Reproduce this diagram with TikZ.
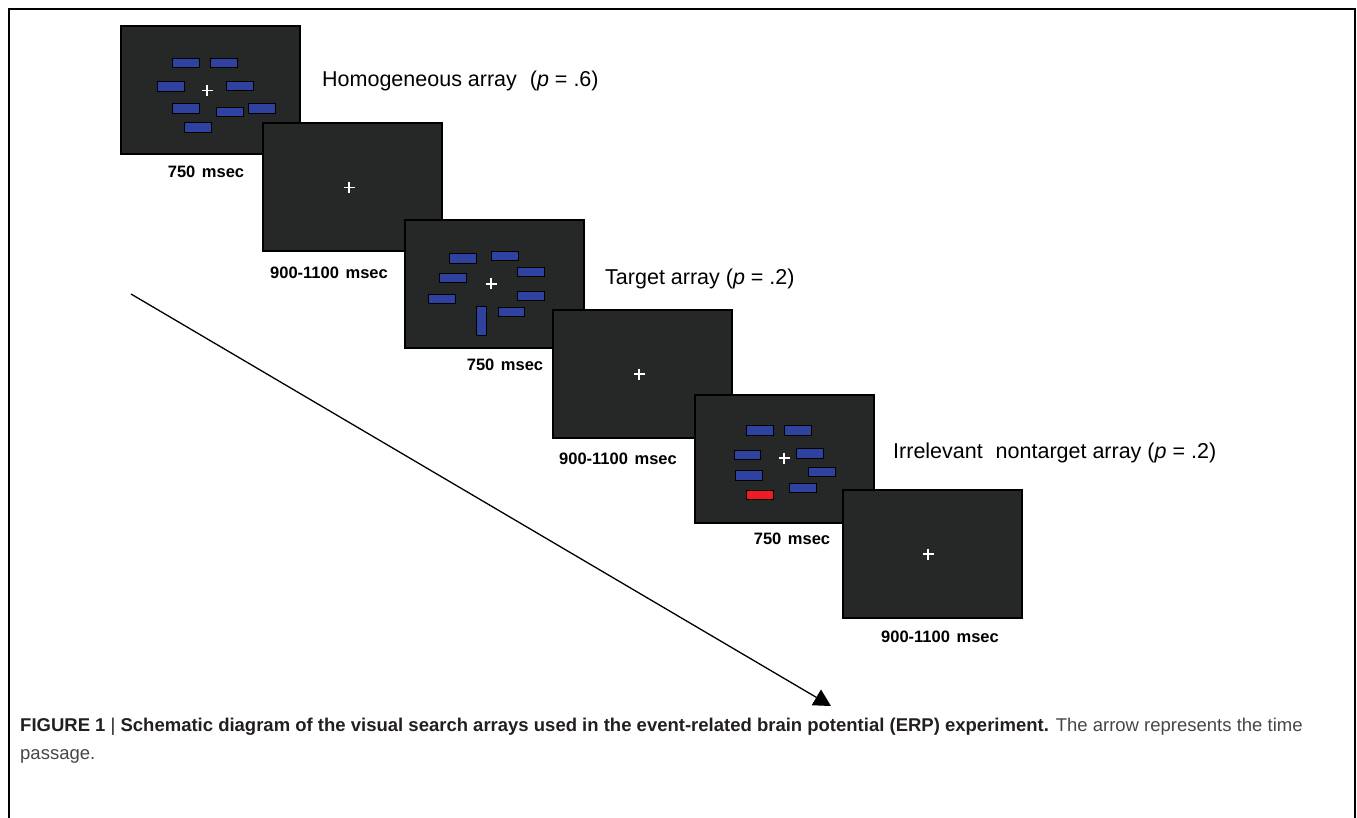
\documentclass[tikz,border=0pt]{standalone}
\usepackage{fontspec}
\setmainfont{Liberation Sans}
\usetikzlibrary{arrows.meta}
\definecolor{screengray}{RGB}{38,40,40}
\definecolor{barblue}{RGB}{48,66,160}
\definecolor{barred}{RGB}{236,28,36}
\definecolor{capdark}{RGB}{35,31,32}
\definecolor{capgray}{RGB}{70,70,70}
\begin{document}
\begin{tikzpicture}[x=1pt,y=-1pt]
	\tikzset{
		screen/.style={draw=black, line width=1.2pt, fill=screengray, anchor=north west, minimum width=179pt, minimum height=128pt, inner sep=0pt, outer sep=0pt},
		bar/.style={draw=black, line width=1.2pt, fill=barblue, minimum width=26.5pt, minimum height=9.5pt, inner sep=0pt},
		oddbar/.style={bar, fill=barred},
		vbar/.style={bar, minimum width=9.5pt, minimum height=29pt},
		fix/.style={white, line width=1.7pt},
		dur/.style={font=\bfseries\fontsize{16.5}{19}\selectfont, inner sep=0pt},
		cond/.style={font=\fontsize{21.5}{25}\selectfont, anchor=west, inner sep=0pt},
	}
	\def\fixcross#1{\draw[fix] (#1) ++(-5.5,0) -- ++(11,0) (#1) ++(0,-5.5) -- ++(0,11);}
	\useasboundingbox (0,0) rectangle (1357,818);
	
	% Frame round the figure (open at the bottom).
	\draw[line width=2.5pt] (9,818) -- (9,9) -- (1355,9) -- (1355,818);
	
	% Homogeneous array.
	\begin{scope}[shift={(121,26)}]
		\node[screen] (hom) at (0,0) {};
		\node[bar] (hom1) at (65,37) {};
		\node[bar] (hom2) at (103,37) {};
		\node[bar] (hom3) at (50,60.5) {};
		\node[bar] (hom4) at (119,60) {};
		\node[bar] (hom5) at (65,82.5) {};
		\node[bar] (hom6) at (109,86) {};
		\node[bar] (hom7) at (141,82.5) {};
		\node[bar] (hom8) at (77,101.5) {};
		\coordinate (homfix) at (86,64.5);
		\fixcross{homfix}
	\end{scope}
	\node[dur] (homdur) at (206,172) {750\hspace{0.4em}msec};
	\node[cond] (homtxt) at (322,81) {Homogeneous array\hspace{0.6em}(\textit{p} = .6)};
	
	% Blank screen.
	\begin{scope}[shift={(263,123)}]
		\node[screen] (isi1) at (0,0) {};
		\coordinate (isi1fix) at (86,64.5);
		\fixcross{isi1fix}
	\end{scope}
	\node[dur] (isi1dur) at (329,273) {900-1100\hspace{0.4em}msec};
	
	% Target array.
	\begin{scope}[shift={(405,220)}]
		\node[screen] (tgt) at (0,0) {};
		\node[bar] (tgt1) at (58,38.5) {};
		\node[bar] (tgt2) at (100,36) {};
		\node[bar] (tgt3) at (126,52) {};
		\node[bar] (tgt4) at (48,58) {};
		\node[bar] (tgt5) at (37,79) {};
		\node[bar] (tgt6) at (126,76) {};
		\node[bar] (tgt7) at (106.5,92) {};
		\node[vbar] (tgt8) at (76.5,101) {};
		\coordinate (tgtfix) at (86,64);
		\fixcross{tgtfix}
	\end{scope}
	\node[dur] (tgtdur) at (505,365) {750\hspace{0.4em}msec};
	\node[cond] (tgttxt) at (605,279) {Target array (\textit{p} = .2)};
	
	% Blank screen.
	\begin{scope}[shift={(553,310)}]
		\node[screen] (isi2) at (0,0) {};
		\coordinate (isi2fix) at (86,64);
		\fixcross{isi2fix}
	\end{scope}
	\node[dur] (isi2dur) at (618,459) {900-1100\hspace{0.4em}msec};
	
	% Irrelevant nontarget array.
	\begin{scope}[shift={(695,395)}]
		\node[screen] (irr) at (0,0) {};
		\node[bar] (irr1) at (65,35.5) {};
		\node[bar] (irr2) at (103,35.5) {};
		\node[bar] (irr3) at (52.5,60) {};
		\node[bar] (irr4) at (115,58.5) {};
		\node[bar] (irr5) at (54,80.5) {};
		\node[bar] (irr6) at (127,77) {};
		\node[bar] (irr7) at (108,93) {};
		\node[oddbar] (irr8) at (65,100) {};
		\coordinate (irrfix) at (89,63);
		\fixcross{irrfix}
	\end{scope}
	\node[dur] (irrdur) at (792,539) {750\hspace{0.4em}msec};
	\node[cond] (irrtxt) at (893,453) {Irrelevant\hspace{0.6em}nontarget array (\textit{p} = .2)};
	
	% Blank screen.
	\begin{scope}[shift={(843,490)}]
		\node[screen] (isi3) at (0,0) {};
		\coordinate (isi3fix) at (85,64);
		\fixcross{isi3fix}
	\end{scope}
	\node[dur] (isi3dur) at (940,637) {900-1100\hspace{0.4em}msec};
	
	% Time arrow.
	\coordinate (tstart) at (131,294);
	\coordinate (tend) at (831,706);
	\draw[line width=1.3pt, -{Triangle[length=17pt,width=18pt]}] (tstart) -- (tend);
	
	% Caption.
	\node[anchor=north west, inner sep=0pt, align=left, font=\fontsize{18.5}{28}\selectfont] (caption) at (20,718)
		{\textcolor{capdark}{\bfseries FIGURE 1 {\mdseries|} Schematic diagram of the visual search arrays used in the event-related brain potential (ERP) experiment.} \textcolor{capgray}{The arrow represents the time}\\
		\textcolor{capgray}{passage.}};
\end{tikzpicture}
\end{document}
